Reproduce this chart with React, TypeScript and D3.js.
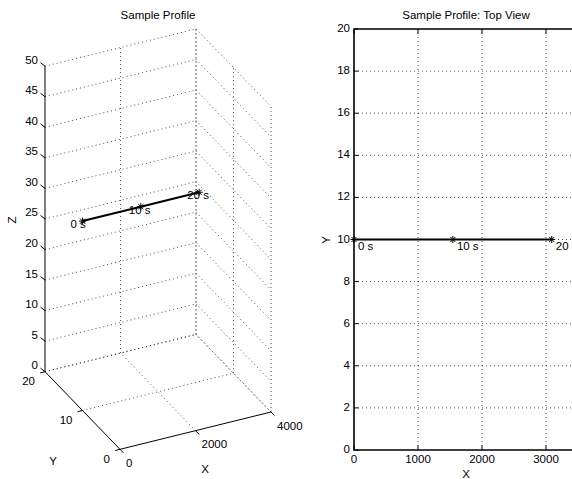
import React from "react";
import * as d3 from "d3";

const W = 572;
const H = 479;
const FONT = "'Liberation Sans', Arial, Helvetica, sans-serif";
const FS = 11.5;

// profile data
const timeLabels = ["0 s", "10 s", "20 s"];
const pathX = [0, 1545, 3090];
const pathY = [10, 10, 10];
const pathZ = [31, 31, 31];

// ticks
const xTicks3d = [0, 2000, 4000];
const yTicks3d = [0, 10, 20];
const zTicks3d = [0, 5, 10, 15, 20, 25, 30, 35, 40, 45, 50];
const xTicksTop = [0, 1000, 2000, 3000];
const yTicksTop = [0, 2, 4, 6, 8, 10, 12, 14, 16, 18, 20];

// 3d view: each axis maps to a fraction, then onto a screen vector
const fx = d3.scaleLinear().domain([0, 4000]).range([0, 1]);
const fy = d3.scaleLinear().domain([0, 20]).range([0, 1]);
const fz = d3.scaleLinear().domain([0, 50]).range([0, 1]);
const O = [120, 449.3];
const EX = [151, -37.3];
const EY = [-75, -77.6];
const EZ = [0, -305.5];

function p3(x: number, y: number, z: number): [number, number] {
  const a = fx(x), b = fy(y), c = fz(z);
  return [
    O[0] + a * EX[0] + b * EY[0] + c * EZ[0],
    O[1] + a * EX[1] + b * EY[1] + c * EZ[1],
  ];
}

// top view scales
const xs = d3.scaleLinear().domain([0, 3500]).range([354, 578]);
const ys = d3.scaleLinear().domain([0, 20]).range([450, 29]);

const dotted = { stroke: "#222", strokeWidth: 0.8, strokeDasharray: "1 3", fill: "none" };

function Star({ x, y }: { x: number; y: number }) {
  const r = 3.5, d = r * 0.72;
  const p = `M${x - r},${y}L${x + r},${y}M${x},${y - r}L${x},${y + r}M${x - d},${y - d}L${x + d},${y + d}M${x - d},${y + d}L${x + d},${y - d}`;
  return <path d={p} stroke="#000" strokeWidth={1} fill="none" />;
}

function Seg({ a, b, style }: { a: [number, number]; b: [number, number]; style: any }) {
  return <line x1={a[0]} y1={a[1]} x2={b[0]} y2={b[1]} {...style} />;
}

function View3D() {
  const grid: [[number, number], [number, number]][] = [];
  zTicks3d.forEach((z) => {
    grid.push([p3(0, 20, z), p3(4000, 20, z)]);
    grid.push([p3(4000, 20, z), p3(4000, 0, z)]);
  });
  xTicks3d.forEach((x) => {
    if (x > 0) grid.push([p3(x, 20, 0), p3(x, 20, 50)]);
    if (x > 0) grid.push([p3(x, 0, 0), p3(x, 20, 0)]);
  });
  yTicks3d.forEach((y) => {
    grid.push([p3(4000, y, 0), p3(4000, y, 50)]);
    if (y > 0) grid.push([p3(0, y, 0), p3(4000, y, 0)]);
  });
  const line = d3.line<number>()
    .x((i) => p3(pathX[i], pathY[i], pathZ[i])[0])
    .y((i) => p3(pathX[i], pathY[i], pathZ[i])[1]);
  const solid = { stroke: "#000", strokeWidth: 1 };
  return (
    <g>
      {grid.map((g, i) => <Seg key={i} a={g[0]} b={g[1]} style={dotted} />)}
      <Seg a={p3(0, 20, 0)} b={p3(0, 20, 50)} style={solid} />
      <Seg a={p3(0, 0, 0)} b={p3(0, 20, 0)} style={solid} />
      <Seg a={p3(0, 0, 0)} b={p3(4000, 0, 0)} style={solid} />
      {zTicks3d.map((z) => {
        const [px, py] = p3(0, 20, z);
        return (
          <g key={"z" + z}>
            <line x1={px} y1={py} x2={px - 4.5} y2={py - 3.5} stroke="#000" />
            <text x={px - 7} y={py - 5.5} textAnchor="end" dominantBaseline="middle">{z}</text>
          </g>
        );
      })}
      {yTicks3d.map((y) => {
        const [px, py] = p3(0, y, 0);
        return (
          <g key={"y" + y}>
            <line x1={px} y1={py} x2={px - 4.9} y2={py + 1.2} stroke="#000" />
            <text x={px - 10} y={py + 10.5} textAnchor="end" dominantBaseline="middle">{y}</text>
          </g>
        );
      })}
      {xTicks3d.map((x) => {
        const [px, py] = p3(x, 0, 0);
        return (
          <g key={"x" + x}>
            <line x1={px} y1={py} x2={px + 3.5} y2={py + 3.6} stroke="#000" />
            <text x={px + 6} y={py + 14.5} textAnchor="start" dominantBaseline="middle">{x}</text>
          </g>
        );
      })}
      <path d={line(pathX.map((_, i) => i)) || ""} stroke="#000" strokeWidth={2} fill="none" />
      {pathX.map((x, i) => {
        const [px, py] = p3(x, pathY[i], pathZ[i]);
        return (
          <g key={"m" + i}>
            <Star x={px} y={py} />
            <text x={px - 12} y={py + 4} dominantBaseline="middle">{timeLabels[i]}</text>
          </g>
        );
      })}
      <text x={158} y={16} textAnchor="middle" dominantBaseline="middle">Sample Profile</text>
      <text x={205} y={470} textAnchor="middle" dominantBaseline="middle">X</text>
      <text x={53} y={462} textAnchor="middle" dominantBaseline="middle">Y</text>
      <text x={13} y={220} textAnchor="middle" dominantBaseline="middle" transform="rotate(-90 13 220)">Z</text>
    </g>
  );
}

function TopView() {
  const [x0, x1] = xs.range();
  const [yb, yt] = ys.range();
  const line = d3.line<number>().x((i) => xs(pathX[i])).y((i) => ys(pathY[i]));
  return (
    <g>
      {xTicksTop.filter((t) => t > 0).map((t) => (
        <line key={"gx" + t} x1={xs(t)} x2={xs(t)} y1={yb} y2={yt} {...dotted} />
      ))}
      {yTicksTop.filter((t) => t > 0 && t < 20).map((t) => (
        <line key={"gy" + t} x1={x0} x2={x1} y1={ys(t)} y2={ys(t)} {...dotted} />
      ))}
      {xTicksTop.map((t) => (
        <g key={"tx" + t}>
          <line x1={xs(t)} x2={xs(t)} y1={yb} y2={yb - 4.5} stroke="#000" />
          <line x1={xs(t)} x2={xs(t)} y1={yt} y2={yt + 4.5} stroke="#000" />
          <text x={xs(t)} y={yb + 10} textAnchor="middle" dominantBaseline="middle">{t}</text>
        </g>
      ))}
      {yTicksTop.map((t) => (
        <g key={"ty" + t}>
          <line x1={x0} x2={x0 + 4.5} y1={ys(t)} y2={ys(t)} stroke="#000" />
          <text x={x0 - 4} y={ys(t)} textAnchor="end" dominantBaseline="middle">{t}</text>
        </g>
      ))}
      <path d={`M${x1},${yt}H${x0}V${yb}H${x1}`} stroke="#000" strokeWidth={1.6} fill="none" />
      <path d={line(pathX.map((_, i) => i)) || ""} stroke="#000" strokeWidth={2} fill="none" />
      {pathX.map((x, i) => (
        <g key={"m" + i}>
          <Star x={xs(x)} y={ys(pathY[i])} />
          <text x={xs(x) + 4} y={ys(pathY[i]) + 7} dominantBaseline="middle">{timeLabels[i]}</text>
        </g>
      ))}
      <text x={466} y={16} textAnchor="middle" dominantBaseline="middle">Sample Profile: Top View</text>
      <text x={466} y={475} textAnchor="middle" dominantBaseline="middle">X</text>
      <text x={327} y={240} textAnchor="middle" dominantBaseline="middle" transform="rotate(-90 327 240)">Y</text>
    </g>
  );
}

export default function App() {
  return (
    <svg
      width={W}
      height={H}
      style={{ position: "absolute", left: 0, top: 0, background: "#fff" }}
      fontFamily={FONT}
      fontSize={FS}
      fill="#000"
    >
      <rect width={W} height={H} fill="#fff" />
      <View3D />
      <TopView />
    </svg>
  );
}
